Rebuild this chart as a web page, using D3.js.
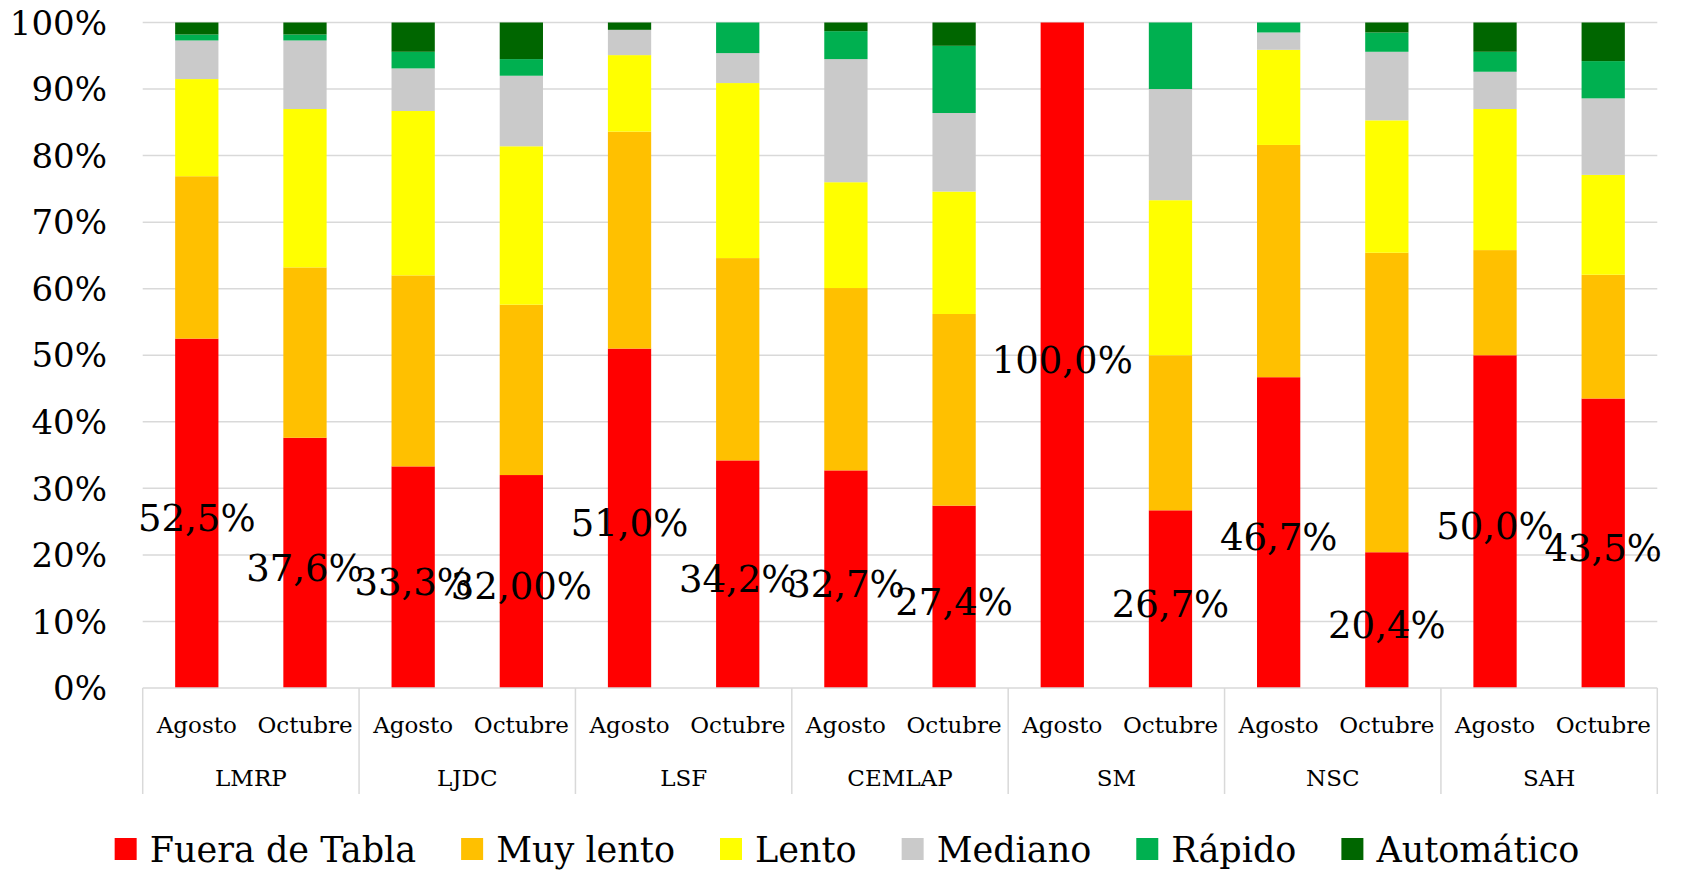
<!DOCTYPE html>
<html>
<head>
<meta charset="utf-8">
<script src="https://cdn.jsdelivr.net/npm/d3@7"></script>
<style>
  html, body { margin: 0; padding: 0; background: #fff; }
  svg { display: block; }
  text { font-family: "DejaVu Serif", "Liberation Serif", serif; fill: #000; }
</style>
</head>
<body>
<svg id="chart" width="1682" height="872"></svg>
<script>
// ---- Data ----
const groups = ["LMRP", "LJDC", "LSF", "CEMLAP", "SM", "NSC", "SAH"];
const months = ["Agosto", "Octubre"];
const seriesNames = ["Fuera de Tabla", "Muy lento", "Lento", "Mediano", "Rápido", "Automático"];
const seriesColors = ["#FF0000", "#FFC000", "#FFFF00", "#CACACA", "#00B050", "#006600"];

// values in order: LMRP Ago, LMRP Oct, LJDC Ago, LJDC Oct, ...
const fueraDeTabla = [52.5, 37.6, 33.3, 32.0, 51.0, 34.2, 32.7, 27.4, 100.0, 26.7, 46.7, 20.4, 50.0, 43.5];
const muyLento     = [24.4, 25.6, 28.7, 25.6, 32.6, 30.4, 27.4, 28.8, 0, 23.3, 34.9, 45.0, 15.8, 18.6];
const lento        = [14.6, 23.8, 24.7, 23.8, 11.5, 26.3, 15.9, 18.4, 0, 23.3, 14.3, 19.9, 21.2, 15.0];
const mediano      = [5.8, 10.3, 6.4, 10.6, 3.8, 4.5, 18.5, 11.8, 0, 16.7, 2.6, 10.3, 5.6, 11.5];
const rapido       = [0.9, 0.9, 2.5, 2.5, 0, 4.6, 4.2, 10.1, 0, 10.0, 1.5, 2.9, 3.0, 5.6];
const automatico   = [1.8, 1.8, 4.4, 5.5, 1.1, 0, 1.3, 3.5, 0, 0, 0, 1.5, 4.4, 5.8];
const dataLabels = ["52,5%", "37,6%", "33,3%", "32,00%", "51,0%", "34,2%", "32,7%", "27,4%",
                    "100,0%", "26,7%", "46,7%", "20,4%", "50,0%", "43,5%"];
const tickValues = [0, 10, 20, 30, 40, 50, 60, 70, 80, 90, 100];
const tickLabels = ["0%", "10%", "20%", "30%", "40%", "50%", "60%", "70%", "80%", "90%", "100%"];

// ---- Build table ----
const seriesValues = [fueraDeTabla, muyLento, lento, mediano, rapido, automatico];
const rows = [];
groups.forEach((g, gi) => {
  months.forEach((m, mi) => {
    const i = gi * months.length + mi;
    const row = { group: g, month: m, idx: i, label: dataLabels[i] };
    seriesNames.forEach((s, si) => { row[s] = seriesValues[si][i]; });
    rows.push(row);
  });
});

// ---- Layout ----
const svg = d3.select("#chart");
const plotLeft = 142.7, plotRight = 1657.3, yBottom = 688, yTop = 22.5;
const axisBottom = 794;

const xGroup = d3.scaleBand().domain(groups).range([plotLeft, plotRight]).padding(0);
const xMonth = d3.scaleBand().domain(months).range([0, xGroup.bandwidth()])
  .paddingInner(0.6).paddingOuter(0.3);
const y = d3.scaleLinear().domain([0, 100]).range([yBottom, yTop]);
const color = d3.scaleOrdinal().domain(seriesNames).range(seriesColors);

// gridlines
svg.append("g").selectAll("line").data(tickValues.filter(v => v > 0)).join("line")
  .attr("x1", plotLeft).attr("x2", plotRight)
  .attr("y1", d => y(d)).attr("y2", d => y(d))
  .attr("stroke", "#D9D9D9").attr("stroke-width", 1.5);

// y tick labels
svg.append("g").selectAll("text").data(tickValues).join("text")
  .attr("x", 107).attr("y", d => y(d)).attr("dy", "0.36em")
  .attr("text-anchor", "end").attr("font-size", 34)
  .text((d, i) => tickLabels[i]);

// stacked bars
const stack = d3.stack().keys(seriesNames);
const stacked = stack(rows);
const barX = d => xGroup(d.data.group) + xMonth(d.data.month);

svg.append("g").selectAll("g").data(stacked).join("g")
  .attr("fill", d => color(d.key))
  .selectAll("rect").data(d => d.filter(p => p[1] - p[0] > 0)).join("rect")
  .attr("x", barX)
  .attr("width", xMonth.bandwidth())
  .attr("y", d => y(d[1]))
  .attr("height", d => y(d[0]) - y(d[1]));

// x axis baseline and separators
svg.append("line")
  .attr("x1", plotLeft).attr("x2", plotRight)
  .attr("y1", yBottom).attr("y2", yBottom)
  .attr("stroke", "#D9D9D9").attr("stroke-width", 1.5);
const sepX = groups.map(g => xGroup(g)).concat([plotRight]);
svg.append("g").selectAll("line").data(sepX).join("line")
  .attr("x1", d => d).attr("x2", d => d)
  .attr("y1", yBottom).attr("y2", axisBottom)
  .attr("stroke", "#D9D9D9").attr("stroke-width", 1.5);

// month labels
svg.append("g").selectAll("text").data(rows).join("text")
  .attr("x", d => xGroup(d.group) + xMonth(d.month) + xMonth.bandwidth() / 2)
  .attr("y", 733)
  .attr("text-anchor", "middle").attr("font-size", 23)
  .text(d => d.month);

// group labels
svg.append("g").selectAll("text").data(groups).join("text")
  .attr("x", d => xGroup(d) + xGroup.bandwidth() / 2)
  .attr("y", 786)
  .attr("text-anchor", "middle").attr("font-size", 23)
  .text(d => d);

// data labels (Fuera de Tabla series, centered in segment)
svg.append("g").selectAll("text").data(stacked[0]).join("text")
  .attr("x", d => barX(d) + xMonth.bandwidth() / 2)
  .attr("y", d => (y(d[0]) + y(d[1])) / 2)
  .attr("dy", "0.48em")
  .attr("text-anchor", "middle").attr("font-size", 37)
  .text(d => d.data.label);

// legend
const legend = svg.append("g");
const items = legend.selectAll("g").data(seriesNames).join("g");
items.append("rect").attr("width", 22).attr("height", 22).attr("y", 838)
  .attr("fill", d => color(d));
items.append("text").attr("x", 35).attr("y", 862).attr("font-size", 35).text(d => d);
let widths = [];
items.each(function () {
  widths.push(35 + d3.select(this).select("text").node().getComputedTextLength());
});
const gap = 45;
const total = d3.sum(widths) + gap * (widths.length - 1);
let cx = 847 - total / 2;
items.each(function (d, i) {
  d3.select(this).attr("transform", `translate(${cx},0)`);
  cx += widths[i] + gap;
});
</script>
</body>
</html>
